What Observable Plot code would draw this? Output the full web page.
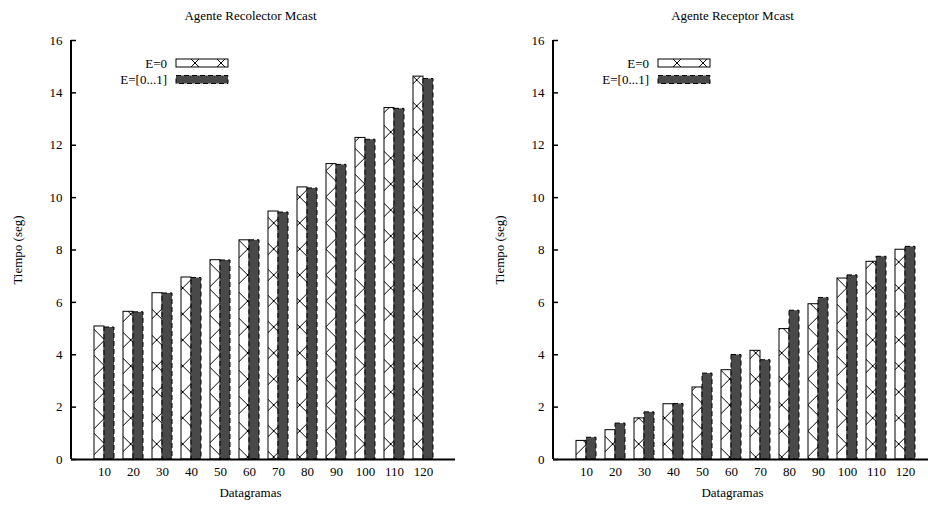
<!DOCTYPE html>
<html><head><meta charset="utf-8">
<script src="https://cdn.jsdelivr.net/npm/d3@7"></script>
<script src="https://cdn.jsdelivr.net/npm/@observablehq/plot@0.6"></script>
<style>
body{margin:0;background:#fff}
#wrap{display:flex;width:928px;height:506px;overflow:hidden}
#wrap svg{flex:none}
</style></head><body><div id="wrap"></div>
<script>
const categories = ["10","20","30","40","50","60","70","80","90","100","110","120"];
const seriesNames = ["E=0", "E=[0...1]"];
const recolectorE0  = [5.08, 5.64, 6.35, 6.95, 7.61, 8.37, 9.47, 10.39, 11.28, 12.28, 13.42, 14.62];
const recolectorE01 = [5.04, 5.62, 6.34, 6.93, 7.60, 8.37, 9.43, 10.35, 11.25, 12.21, 13.39, 14.53];
const receptorE0    = [0.71, 1.12, 1.57, 2.11, 2.75, 3.41, 4.15, 4.98, 5.93, 6.91, 7.55, 8.01];
const receptorE01   = [0.83, 1.37, 1.80, 2.12, 3.28, 3.99, 3.79, 5.68, 6.17, 7.03, 7.74, 8.12];
const yTicks = [0, 2, 4, 6, 8, 10, 12, 14, 16];
const titles = ["Agente Recolector Mcast", "Agente Receptor Mcast"];
const xLabel = "Datagramas";
const yLabel = "Tiempo (seg)";

const FONT = "'Liberation Serif', 'Times New Roman', serif";
const DARK = "#494949";

function chart(title, e0, e01, width, marginRight, pid) {
  const rows0 = categories.map((c, i) => ({cat: c, value: e0[i]}));
  const rows1 = categories.map((c, i) => ({cat: c, value: e01[i]}));
  return Plot.plot({
    width, height: 506,
    marginLeft: 71, marginRight, marginTop: 40, marginBottom: 47,
    style: {fontFamily: FONT, fontSize: "13px", background: "white", color: "black", overflow: "visible"},
    x: {domain: categories, range: [71, 455], paddingInner: 0.659, paddingOuter: 0.877, align: 0.5, axis: null},
    y: {domain: [0, 16], axis: null},
    marks: [
      // pattern defs
      () => {
        const g = d3.create("svg:g");
        const defs = g.append("defs");
        const mk = (id, px, py) => {
          const p = defs.append("pattern").attr("id", id).attr("patternUnits", "userSpaceOnUse")
            .attr("x", px).attr("y", py).attr("width", 26).attr("height", 26);
          p.append("rect").attr("width", 26).attr("height", 26).attr("fill", "white");
          p.append("path").attr("d", "M-1,-1L27,27M27,-1L-1,27").attr("stroke", "black").attr("stroke-width", 1).attr("fill", "none");
        };
        mk(pid, 5.7, 2);
        mk(pid + "L", 0, 24);
        return g.node();
      },
      Plot.barY(rows0, {x: "cat", y: "value", dx: -5, fill: `url(#${pid})`, stroke: "black", strokeWidth: 1}),
      Plot.barY(rows1, {x: "cat", y: "value", dx: 5, fill: DARK, stroke: "black", strokeWidth: 1, strokeDasharray: "5,3"}),
      Plot.ruleY([0], {strokeWidth: 2}),
      // left axis line
      (index, scales, values, dims) => {
        const l = d3.create("svg:line")
          .attr("x1", dims.marginLeft).attr("x2", dims.marginLeft)
          .attr("y1", scales.y(16)).attr("y2", scales.y(0))
          .attr("stroke", "black").attr("stroke-width", 2);
        return l.node();
      },
      Plot.axisY({ticks: yTicks, tickSize: -5, tickPadding: 14, strokeWidth: 1.5, label: null, tickFormat: d => String(d)}),
      Plot.axisX({tickSize: 0, tickPadding: 7, label: null}),
      Plot.text([title], {text: d => d, frameAnchor: "top-left", dx: 179, dy: -25, textAnchor: "middle", lineAnchor: "middle"}),
      Plot.text([xLabel], {text: d => d, frameAnchor: "bottom-left", dx: 179, dy: 33, textAnchor: "middle", lineAnchor: "middle"}),
      Plot.text([yLabel], {text: d => d, frameAnchor: "left", dx: -54, rotate: -90, textAnchor: "middle", lineAnchor: "middle"}),
      // legend
      () => {
        const g = d3.create("svg:g").attr("font-family", FONT).attr("font-size", 13);
        seriesNames.forEach((name, i) => {
          const cy = 63 + i * 16.5;
          g.append("text").attr("x", 167).attr("y", cy).attr("dy", "0.35em").attr("text-anchor", "end").attr("fill", "black").text(name);
          g.append("rect").attr("x", 176).attr("y", cy - 4).attr("width", 52).attr("height", 8)
            .attr("fill", i === 0 ? `url(#${pid}L)` : DARK)
            .attr("stroke", "black").attr("stroke-width", 1)
            .attr("stroke-dasharray", i === 0 ? null : "5,3");
        });
        return g.node();
      }
    ]
  });
}

const wrap = document.getElementById("wrap");
wrap.appendChild(chart(titles[0], recolectorE0, recolectorE01, 482, 27, "hatchA"));
wrap.appendChild(chart(titles[1], receptorE0, receptorE01, 446, 0, "hatchB"));
</script>
</body></html>
